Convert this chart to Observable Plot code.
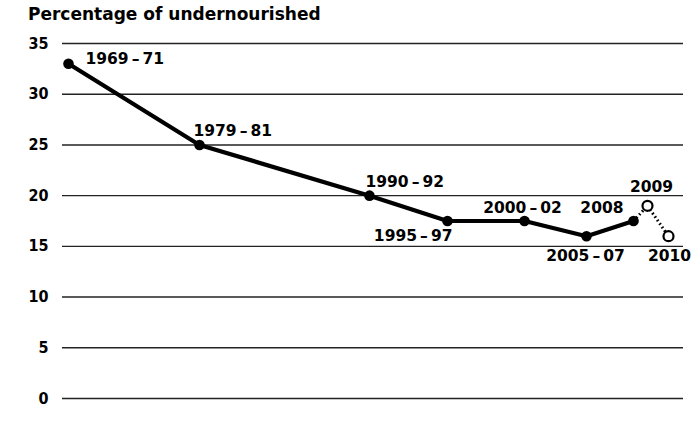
<!DOCTYPE html>
<html>
<head>
<meta charset="utf-8">
<script src="https://cdn.jsdelivr.net/npm/d3@7"></script>
<script src="https://cdn.jsdelivr.net/npm/@observablehq/plot@0.6"></script>
<style>
  html, body { margin: 0; padding: 0; background: #fff; }
  #title {
    height: 28px; box-sizing: border-box; padding: 6px 0 0 28px;
    font: bold 17px/17px "DejaVu Sans", sans-serif; color: #000;
    white-space: nowrap;
  }
  svg { display: block; }
</style>
</head>
<body>
<div id="title">Percentage of undernourished</div>
<div id="chart"></div>
<script>
// Data
const periods   = ["1969\u2009–\u200971", "1979\u2009–\u200981", "1990\u2009–\u200992", "1995\u2009–\u200997", "2000\u2009–\u200902", "2005\u2009–\u200907", "2008", "2009", "2010"];
const midYears  = [1970, 1980, 1991, 1996, 2001, 2006, 2008, 2009, 2010];
const values    = [33, 25, 20, 17.5, 17.5, 16, 17.5, 19, 16];
const projected = [false, false, false, false, false, false, false, true, true];
const yTicks    = [0, 5, 10, 15, 20, 25, 30, 35];

const rows = periods.map((p, i) => ({label: p, year: midYears[i], value: values[i], projected: projected[i]}));
const solid = rows.filter(d => !d.projected);
const dotted = rows.slice(rows.findIndex(d => d.projected) - 1);
const proj = rows.filter(d => d.projected);

// label placement (layout only)
const place = {
  "1969\u2009–\u200971": {anchor: "start",  dx: 17, dy: -5},
  "1979\u2009–\u200981": {anchor: "start",  dx: -6, dy: -14},
  "1990\u2009–\u200992": {anchor: "start",  dx: -4, dy: -14},
  "1995\u2009–\u200997": {anchor: "end",    dx: 5,  dy: 15},
  "2000\u2009–\u200902": {anchor: "middle", dx: -2, dy: -13},
  "2005\u2009–\u200907": {anchor: "middle", dx: -1, dy: 20},
  "2008":                {anchor: "end",    dx: -10, dy: -13},
  "2009":                {anchor: "middle", dx: 4,  dy: -19},
  "2010":                {anchor: "middle", dx: 1,  dy: 20}
};
const labelMarks = rows.map(d => Plot.text([d], {
  x: "year", y: "value", text: "label",
  textAnchor: place[d.label].anchor, dx: place[d.label].dx, dy: place[d.label].dy,
  lineAnchor: "middle",
  fontFamily: "DejaVu Sans", fontWeight: "bold", fontSize: 15.5, fill: "#000"
}));

const chart = Plot.plot({
  width: 697,
  height: 403,
  marginLeft: 62,
  marginRight: 14,
  marginTop: 15,
  marginBottom: 33,
  style: {background: "#fff", overflow: "visible"},
  x: {type: "linear", axis: null,
      domain: midYears,
      range: [68, 199, 369, 447, 524, 586, 633, 647, 668]},
  y: {domain: [0, 35], axis: null},
  marks: [
    Plot.ruleY(yTicks, {stroke: "#222", strokeWidth: 1.4}),
    Plot.axisY({ticks: yTicks, tickSize: 0, tickPadding: 14, label: null,
      fontFamily: "DejaVu Sans Condensed", fontWeight: "bold", fontSize: 16, fill: "#000"}),
    Plot.line(dotted, {x: "year", y: "value", stroke: "#000", strokeWidth: 3,
      strokeDasharray: "1.6,2.6", strokeLinecap: "butt"}),
    Plot.line(solid, {x: "year", y: "value", stroke: "#000", strokeWidth: 4.2}),
    Plot.dot(solid, {x: "year", y: "value", r: 5.3, fill: "#000"}),
    Plot.dot(proj, {x: "year", y: "value", r: 5, fill: "#fff", stroke: "#000", strokeWidth: 2.2}),
    ...labelMarks
  ]
});
document.getElementById("chart").appendChild(chart);
</script>
</body>
</html>
